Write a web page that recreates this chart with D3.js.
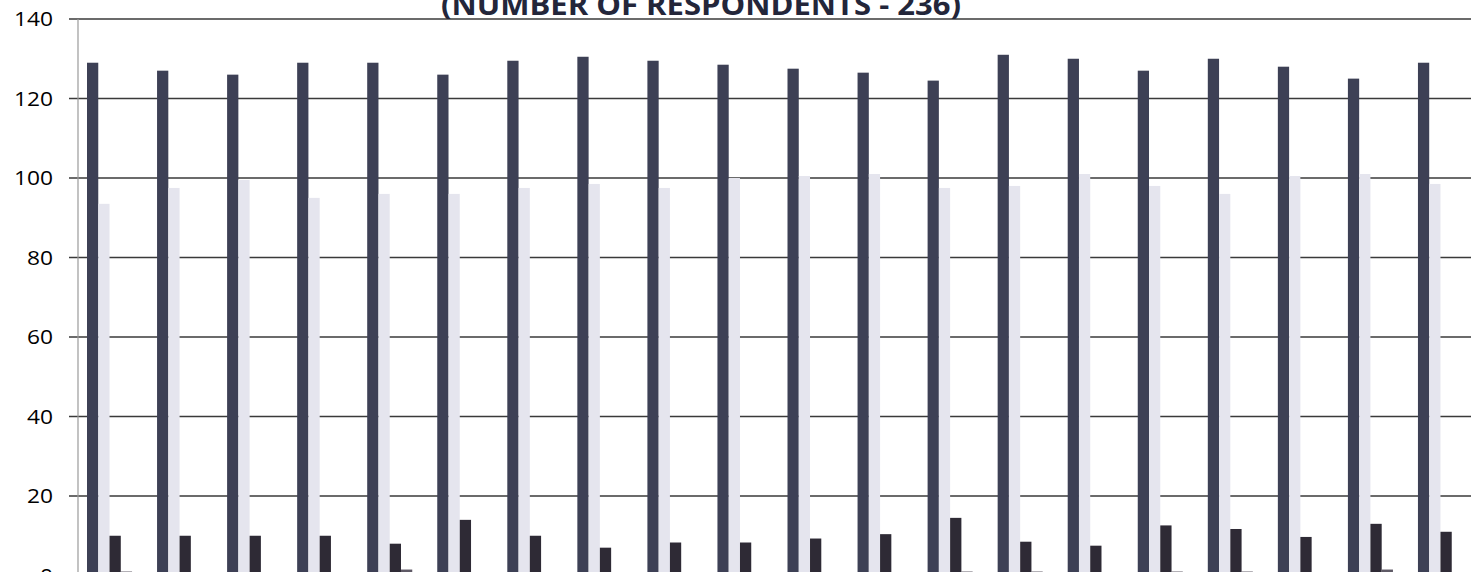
<!DOCTYPE html>
<html>
<head>
<meta charset="utf-8">
<script src="https://cdn.jsdelivr.net/npm/d3@7"></script>
<style>
  html, body { margin: 0; padding: 0; background: #fff; overflow: hidden; }
  svg { display: block; }
</style>
</head>
<body>
<svg id="chart" width="1471" height="572"></svg>
<script>
// ---- data ----
const categories = ["1","2","3","4","5","6","7","8","9","10","11","12","13","14","15","16","17","18","19","20"];
const seriesNames = ["A", "B", "C", "D"];
const seriesA = [129, 127, 126, 129, 129, 126, 129.5, 130.5, 129.5, 128.5, 127.5, 126.5, 124.5, 131, 130, 127, 130, 128, 125, 129];
const seriesB = [93.5, 97.5, 99.5, 95, 96, 96, 97.5, 98.5, 97.5, 100, 100.5, 101, 97.5, 98, 101, 98, 96, 100.5, 101, 98.5];
const seriesC = [10, 10, 10, 10, 8, 14, 10, 7, 8.3, 8.3, 9.3, 10.4, 14.5, 8.5, 7.5, 12.6, 11.7, 9.7, 13, 11];
const seriesD = [1, 0.3, 0.3, 0.3, 1.5, 0.5, 0.3, 0.5, 0.5, 0.5, 0.3, 0.3, 1, 1, 0.3, 1, 1, 0.5, 1.5, 0.5];
const yTicks = [0, 20, 40, 60, 80, 100, 120, 140];
const titleText = "(NUMBER OF RESPONDENTS - 236)";

const seriesValues = [seriesA, seriesB, seriesC, seriesD];
const seriesColors = ["#3d4055", "#e5e5ee", "#2e2a35", "#5f5a66"];

// ---- layout ----
const svg = d3.select("#chart");
const axisX = 78;
const y = d3.scaleLinear().domain([0, 140]).range([575.5, 19]);
const x0 = d3.scaleBand().domain(categories).range([74.5, 74.5 + 20 * 70.05]).padding(0);
const x1 = d3.scaleBand().domain(seriesNames).range([0, x0.bandwidth()]).paddingInner(0).paddingOuter(1.11);

// gridlines
svg.append("g").selectAll("line").data(yTicks).join("line")
  .attr("x1", 69).attr("x2", 1471)
  .attr("y1", d => y(d)).attr("y2", d => y(d))
  .attr("stroke", "#3a3a3a").attr("stroke-width", 1.6);

// vertical axis line
svg.append("line")
  .attr("x1", axisX).attr("x2", axisX)
  .attr("y1", y(140)).attr("y2", y(0))
  .attr("stroke", "#9a9a9a").attr("stroke-width", 1.2);

// bars
const rows = [];
categories.forEach((c, i) => {
  seriesNames.forEach((s, j) => rows.push({ c, s, v: seriesValues[j][i], color: seriesColors[j] }));
});
svg.append("g").selectAll("rect").data(rows).join("rect")
  .attr("x", d => x0(d.c) + x1(d.s))
  .attr("width", x1.bandwidth())
  .attr("y", d => y(d.v))
  .attr("height", d => y(0) - y(d.v))
  .attr("fill", d => d.color);

// y tick labels
svg.append("g").selectAll("text").data(yTicks).join("text")
  .attr("x", 53).attr("y", d => y(d))
  .attr("dy", "0.36em")
  .attr("text-anchor", "end")
  .attr("font-family", "'Open Sans', sans-serif")
  .attr("font-size", 20)
  .attr("fill", "#000")
  .attr("textLength", d => String(d).length * 13)
  .attr("lengthAdjust", "spacingAndGlyphs")
  .text(d => d);

// title (clipped at top, as in the reference)
svg.append("text")
  .attr("x", 701).attr("y", 15)
  .attr("text-anchor", "middle")
  .attr("font-family", "'Open Sans', sans-serif")
  .attr("font-weight", "bold")
  .attr("font-size", 28)
  .attr("fill", "#23263a")
  .attr("textLength", 520)
  .attr("lengthAdjust", "spacingAndGlyphs")
  .text(titleText);
</script>
</body>
</html>
